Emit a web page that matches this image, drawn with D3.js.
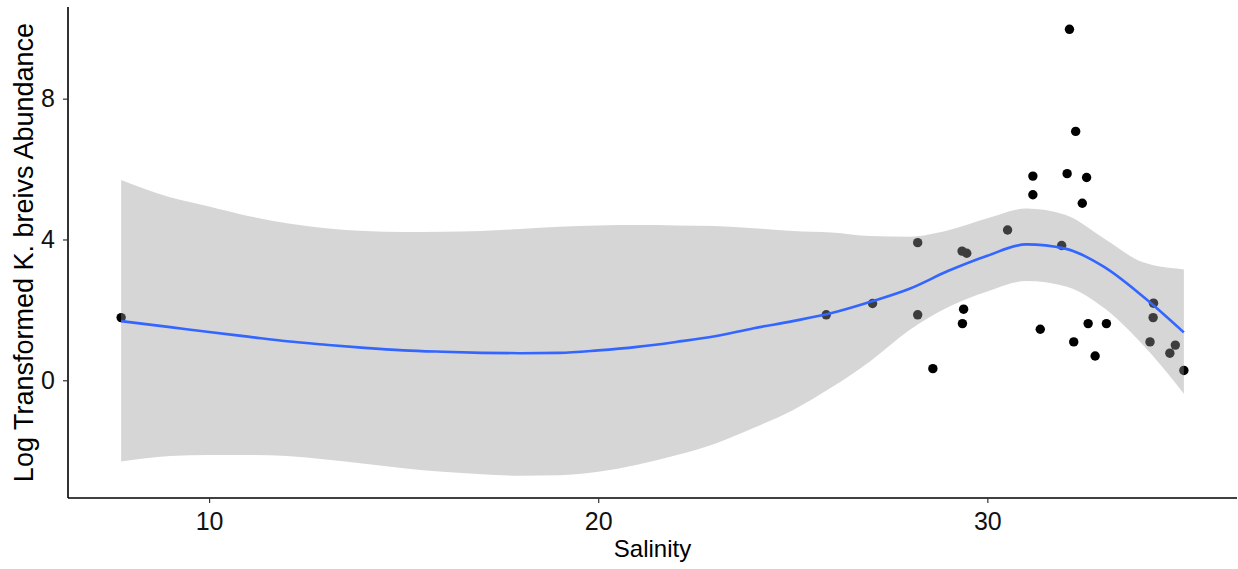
<!DOCTYPE html>
<html>
<head>
<meta charset="utf-8">
<script src="https://cdn.jsdelivr.net/npm/d3@7/dist/d3.min.js"></script>
<style>
  html, body { margin: 0; padding: 0; background: #fff; }
  svg { display: block; }
  text { font-family: "Liberation Sans", Arial, sans-serif; }
</style>
</head>
<body>
<svg id="chart" width="1238" height="569"></svg>
<script>
// ---- data: observed points ----
const salinity = [7.74, 25.86, 27.05, 28.21, 28.21, 29.35, 29.47, 29.39, 29.36, 28.60,
                  30.52, 31.91, 31.36, 32.59, 33.06, 32.77, 32.22, 34.27, 34.26, 34.18,
                  34.83, 34.69, 35.05, 32.11, 32.27, 31.17, 32.05, 32.55, 31.17, 32.44];
const abundance = [1.78, 1.86, 2.18, 3.91, 1.86, 3.67, 3.61, 2.02, 1.61, 0.33,
                   4.27, 3.83, 1.45, 1.61, 1.61, 0.69, 1.09, 2.19, 1.78, 1.09,
                   1.00, 0.77, 0.28, 9.97, 7.07, 5.80, 5.87, 5.76, 5.27, 5.03];

// ---- data: smoother (loess fit with 95% band) ----
const fitX     = [7.74, 9, 10, 11, 12, 13, 14, 15, 16, 17, 18, 19, 20, 21, 22, 23, 24, 25, 26, 27, 28, 29, 30, 31, 32, 33, 34, 35.05];
const fitY     = [1.68, 1.51, 1.37, 1.24, 1.11, 1.01, 0.92, 0.85, 0.81, 0.78, 0.77, 0.78, 0.85, 0.95, 1.09, 1.25, 1.48, 1.68, 1.91, 2.23, 2.60, 3.11, 3.54, 3.86, 3.74, 3.22, 2.38, 1.36];
const fitUpper = [5.69, 5.20, 4.94, 4.67, 4.46, 4.32, 4.24, 4.21, 4.22, 4.24, 4.30, 4.36, 4.40, 4.41, 4.40, 4.38, 4.32, 4.24, 4.20, 4.10, 4.08, 4.26, 4.60, 4.88, 4.70, 4.03, 3.35, 3.15];
const fitLower = [-2.31, -2.15, -2.12, -2.12, -2.15, -2.25, -2.37, -2.50, -2.60, -2.67, -2.71, -2.70, -2.60, -2.40, -2.13, -1.80, -1.35, -0.85, -0.20, 0.55, 1.43, 2.08, 2.52, 2.82, 2.67, 2.05, 1.00, -0.38];

// ---- axis ticks and titles ----
const xTicks = [10, 20, 30];
const yTicks = [0, 4, 8];
const xTitle = "Salinity";
const yTitle = "Log Transformed K. breivs Abundance";

// ---- layout ----
const svg = d3.select("#chart");
const panel = { left: 68, right: 1237, top: 7, bottom: 498 };

// ggplot-style 5% expansion of the data range
function expanded(vals) {
  const [lo, hi] = d3.extent(vals);
  const pad = (hi - lo) * 0.05;
  return [lo - pad, hi + pad];
}
const x = d3.scaleLinear()
  .domain(expanded(salinity.concat(fitX)))
  .range([panel.left, panel.right]);
const y = d3.scaleLinear()
  .domain(expanded(abundance.concat(fitLower, fitUpper)))
  .range([panel.bottom, panel.top]);

const fit = fitX.map((s, i) => ({ s, m: fitY[i], lo: fitLower[i], hi: fitUpper[i] }));

// points first (the band is drawn on top, like ggplot)
svg.append("g").selectAll("circle")
  .data(salinity.map((s, i) => ({ s, a: abundance[i] })))
  .join("circle")
  .attr("cx", d => x(d.s))
  .attr("cy", d => y(d.a))
  .attr("r", 4.7)
  .attr("fill", "#000");

// confidence band
svg.append("path")
  .datum(fit)
  .attr("fill", "#999999")
  .attr("fill-opacity", 0.4)
  .attr("d", d3.area()
    .x(d => x(d.s))
    .y0(d => y(d.lo))
    .y1(d => y(d.hi))
    .curve(d3.curveMonotoneX));

// fitted line
svg.append("path")
  .datum(fit)
  .attr("fill", "none")
  .attr("stroke", "#3366FF")
  .attr("stroke-width", 2.6)
  .attr("d", d3.line()
    .x(d => x(d.s))
    .y(d => y(d.m))
    .curve(d3.curveMonotoneX));

// axes
const xAxis = svg.append("g")
  .attr("transform", `translate(0,${panel.bottom})`)
  .call(d3.axisBottom(x).tickValues(xTicks).tickSize(5).tickSizeOuter(0).tickPadding(9));
const yAxis = svg.append("g")
  .attr("transform", `translate(${panel.left},0)`)
  .call(d3.axisLeft(y).tickValues(yTicks).tickSize(5).tickSizeOuter(0).tickPadding(8));

[xAxis, yAxis].forEach(g => {
  g.select(".domain").attr("stroke", "#000").attr("stroke-width", 1.6);
  g.selectAll(".tick line").attr("stroke", "#333").attr("stroke-width", 1.2);
  g.selectAll(".tick text").attr("fill", "#111").attr("font-size", 25)
    .attr("font-family", "Liberation Sans, Arial, sans-serif");
});
// extend axis lines to the full panel
xAxis.select(".domain").attr("d", `M${panel.left},0H${panel.right}`);
yAxis.select(".domain").attr("d", `M0,${panel.top}V${panel.bottom}`);

// titles
svg.append("text")
  .attr("x", (panel.left + panel.right) / 2)
  .attr("y", 557)
  .attr("text-anchor", "middle")
  .attr("font-size", 24)
  .attr("fill", "#000")
  .text(xTitle);

svg.append("text")
  .attr("transform", `translate(33,${(panel.top + panel.bottom) / 2}) rotate(-90)`)
  .attr("text-anchor", "middle")
  .attr("font-size", 27)
  .attr("fill", "#000")
  .text(yTitle);
</script>
</body>
</html>
